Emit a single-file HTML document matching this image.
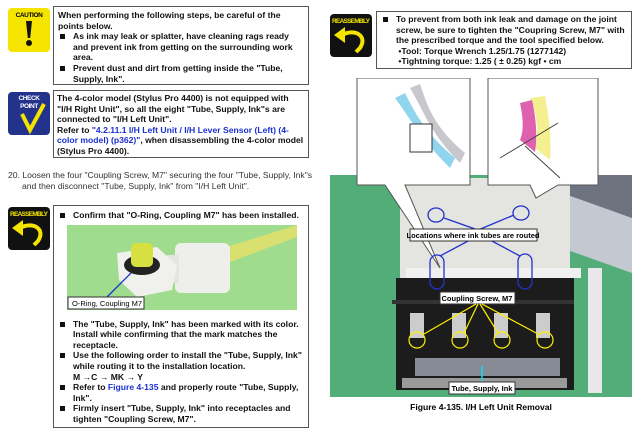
<!DOCTYPE html>
<html><head><meta charset="utf-8"><style>
body{margin:0;width:640px;height:435px;background:#fff;position:relative;overflow:hidden;font-family:"Liberation Sans",Arial,sans-serif}
.a{position:absolute}
.box{position:absolute;border:1px solid #555;box-sizing:border-box;font-size:8.6px;font-weight:bold;line-height:10.6px;color:#111}
.li{position:relative;padding-left:15px}
.li:before{content:"";position:absolute;left:2px;top:3px;width:5px;height:5px;background:#111}
.blue{color:#1a2fd0}
</style></head><body>
<div class="a" style="left:8px;top:8px;width:42px;height:44px;background:#f5e400;border-radius:4px"></div>
<div class="a" style="left:8px;top:12px;width:42px;text-align:center;font-size:6.5px;font-weight:bold;letter-spacing:-0.4px">CAUTION</div>
<div class="a" style="left:26px;top:21px;width:6px;height:17px;background:#111;clip-path:polygon(0 0,100% 0,70% 100%,30% 100%)"></div>
<div class="a" style="left:26px;top:40px;width:6px;height:6px;background:#111;border-radius:50%"></div>
<div class="box" style="left:53px;top:6px;width:256px;height:79px;padding:3px 4px">When performing the following steps, be careful of the points below.
<div class="li">As ink may leak or splatter, have cleaning rags ready and prevent ink from getting on the surrounding work area.</div>
<div class="li">Prevent dust and dirt from getting inside the "Tube, Supply, Ink".</div></div>
<div class="a" style="left:8px;top:92px;width:42px;height:43px;background:#23338c;border-radius:4px"></div>
<div class="a" style="left:8px;top:95px;width:42px;text-align:center;font-size:6.5px;line-height:8px;font-weight:bold;color:#fff;letter-spacing:-0.4px">CHECK<br>POINT</div>
<svg class="a" style="left:8px;top:92px" width="42" height="43"><path d="M14 22 L22 38 L36 12" stroke="#f5e400" stroke-width="4" fill="none"/></svg>
<div class="box" style="left:53px;top:90px;width:256px;height:68px;padding:2px 3px">The 4-color model (Stylus Pro 4400) is not equipped with "I/H Right Unit", so all the eight "Tube, Supply, Ink"s are connected to "I/H Left Unit".<br>Refer to <span class="blue">"4.2.11.1 I/H Left Unit / I/H Lever Sensor (Left) (4-color model) (p362)"</span>, when disassembling the 4-color model (Stylus Pro 4400).</div>
<div class="a" style="left:8px;top:170px;width:300px;font-size:8.6px;line-height:10.5px;color:#333;padding-left:14px;text-indent:-14px">20. Loosen the four "Coupling Screw, M7" securing the four "Tube, Supply, Ink"s and then disconnect "Tube, Supply, Ink" from "I/H Left Unit".</div>
<svg class="a" style="left:8px;top:207px" width="42" height="43"><rect width="42" height="43" rx="4" fill="#111"/><text x="21" y="9" font-size="6.5" font-weight="bold" fill="#f5e400" text-anchor="middle" font-family="Liberation Sans" textLength="38">REASSEMBLY</text><path d="M12 21 C25 14 38 22 30 34 L26 38" stroke="#f5e400" stroke-width="4" fill="none"/><path d="M4 21 L15 13 L15 29Z" fill="#f5e400"/></svg>
<svg class="a" style="left:330px;top:14px" width="42" height="43"><rect width="42" height="43" rx="4" fill="#111"/><text x="21" y="9" font-size="6.5" font-weight="bold" fill="#f5e400" text-anchor="middle" font-family="Liberation Sans" textLength="38">REASSEMBLY</text><path d="M12 21 C25 14 38 22 30 34 L26 38" stroke="#f5e400" stroke-width="4" fill="none"/><path d="M4 21 L15 13 L15 29Z" fill="#f5e400"/></svg>
<div class="box" style="left:53px;top:205px;width:256px;height:223px;padding:4px 4px">
<div class="li">Confirm that "O-Ring, Coupling M7" has been installed.</div>
<div style="height:98px"></div>
<div class="li">The "Tube, Supply, Ink" has been marked with its color. Install while confirming that the mark matches the receptacle.</div>
<div class="li">Use the following order to install the "Tube, Supply, Ink" while routing it to the installation location.<br>M →C → MK → Y</div>
<div class="li">Refer to <span class="blue">Figure 4-135</span> and properly route "Tube, Supply, Ink".</div>
<div class="li">Firmly insert "Tube, Supply, Ink" into receptacles and tighten "Coupling Screw, M7".</div></div>
<svg class="a" style="left:67px;top:225px" width="230" height="85"><rect width="230" height="85" fill="#9fdc8e"/>
<path d="M150 25 L230 0 L230 12 L155 40Z" fill="#d8e070"/>
<rect x="108" y="18" width="55" height="50" rx="6" fill="#eeeeea"/><rect x="100" y="30" width="12" height="28" fill="#e4e4e0"/>
<path d="M50 28 L90 22 L110 40 L105 65 L70 72 L52 55Z" fill="#f0f0ec"/>
<ellipse cx="75" cy="40" rx="18" ry="10" fill="#222"/><rect x="64" y="18" width="22" height="24" rx="5" fill="#d6e040"/>
<line x1="40" y1="72" x2="64" y2="48" stroke="#1a2fd0" stroke-width="1.3"/>
<rect x="1" y="72" width="76" height="12" fill="#fff" stroke="#333"/><text x="5" y="81" font-size="7.5" font-family="Liberation Sans">O-Ring, Coupling M7</text></svg>
<div class="box" style="left:376px;top:11px;width:256px;height:58px;padding:2px 4px">
<div class="li">To prevent from both ink leak and damage on the joint screw, be sure to tighten the "Coupring Screw, M7" with the prescribed torque and the tool specified below.<br>&nbsp;•Tool: Torque Wrench 1.25/1.75 (1277142)<br>&nbsp;•Tightning torque: 1.25 ( ± 0.25) kgf • cm</div></div>
<svg class="a" style="left:330px;top:78px" width="302" height="322">
<rect x="0" y="97" width="302" height="222" fill="#52ad78"/>
<path d="M230 97 H302 V190 L230 165Z" fill="#6d7480"/><path d="M232 115 L302 140 L302 195 L232 170Z" fill="#c4c8d0"/>
<rect x="70" y="100" width="170" height="100" fill="#e4e4e0"/>
<rect x="66" y="200" width="178" height="112" fill="#1c1c1c"/>
<rect x="76" y="190" width="175" height="10" fill="#f0f0f0"/>
<rect x="62" y="222" width="182" height="4" fill="#333"/>
<rect x="85" y="280" width="145" height="18" fill="#cfd6e8" opacity=".6"/>
<rect x="72" y="300" width="165" height="10" fill="#9a9a9a"/>
<rect x="258" y="190" width="14" height="125" fill="#e8e8ec"/>
<g fill="#ccc"><rect x="80" y="235" width="14" height="25"/><rect x="122" y="235" width="14" height="25"/><rect x="164" y="235" width="14" height="25"/><rect x="206" y="235" width="14" height="25"/></g>
<path d="M27 0 H140 V107 H75 L110 190 L55 107 H27Z" fill="#fff" stroke="#555"/>
<path d="M158 0 H268 V107 H228 L206 120 L200 107 H158Z" fill="#fff" stroke="#555"/>
<path d="M65 20 C80 40 90 60 120 90 L125 80 C95 55 85 35 75 15Z" fill="#8fd5ee"/>
<path d="M80 10 C95 35 100 55 130 85 L135 75 C105 50 98 30 90 6Z" fill="#c8c8cc"/>
<rect x="80" y="46" width="22" height="28" fill="#fff" stroke="#333"/>
<path d="M200 20 C205 30 210 50 205 70 L220 82 C222 60 218 35 215 18Z" fill="#f4f090"/>
<path d="M190 25 C192 35 195 50 190 62 L205 74 C208 55 205 35 202 22Z" fill="#e060b0"/>
<line x1="170" y1="80" x2="228" y2="45" stroke="#444"/><line x1="195" y1="68" x2="230" y2="100" stroke="#444"/>
<g stroke="#2233cc" stroke-width="1.3" fill="none"><ellipse cx="106" cy="137" rx="8" ry="7"/><ellipse cx="191" cy="135" rx="8" ry="7"/><rect x="100" y="177" width="14" height="34" rx="7"/><rect x="188" y="176" width="14" height="35" rx="7"/><path d="M114 140 L148 152 L184 137 M140 162 L110 178 M160 162 L190 178"/></g>
<rect x="80" y="151" width="127" height="12" fill="#fff" stroke="#333"/><text x="143" y="160" font-size="7.5" font-weight="bold" text-anchor="middle" font-family="Liberation Sans">Locations where ink tubes are routed</text>
<rect x="110" y="214" width="75" height="12" fill="#fff" stroke="#333"/><text x="147" y="223" font-size="7.5" font-weight="bold" text-anchor="middle" font-family="Liberation Sans">Coupling Screw, M7</text>
<g stroke="#ffee00" stroke-width="1.2" fill="none"><path d="M146 226 L94 256 M148 226 L134 255 M150 226 L168 255 M152 226 L208 256"/><circle cx="87" cy="262" r="8"/><circle cx="130" cy="262" r="8"/><circle cx="172" cy="262" r="8"/><circle cx="215" cy="262" r="8"/></g>
<line x1="152" y1="303" x2="152" y2="288" stroke="#00e0ff" stroke-width="1.5"/>
<rect x="119" y="304" width="66" height="12" fill="#fff" stroke="#333"/><text x="152" y="313" font-size="7.5" font-weight="bold" text-anchor="middle" font-family="Liberation Sans">Tube, Supply, Ink</text>
</svg>
<div class="a" style="left:330px;top:402px;width:302px;text-align:center;font-size:8.6px;font-weight:bold">Figure 4-135. I/H Left Unit Removal</div>
</body></html>
